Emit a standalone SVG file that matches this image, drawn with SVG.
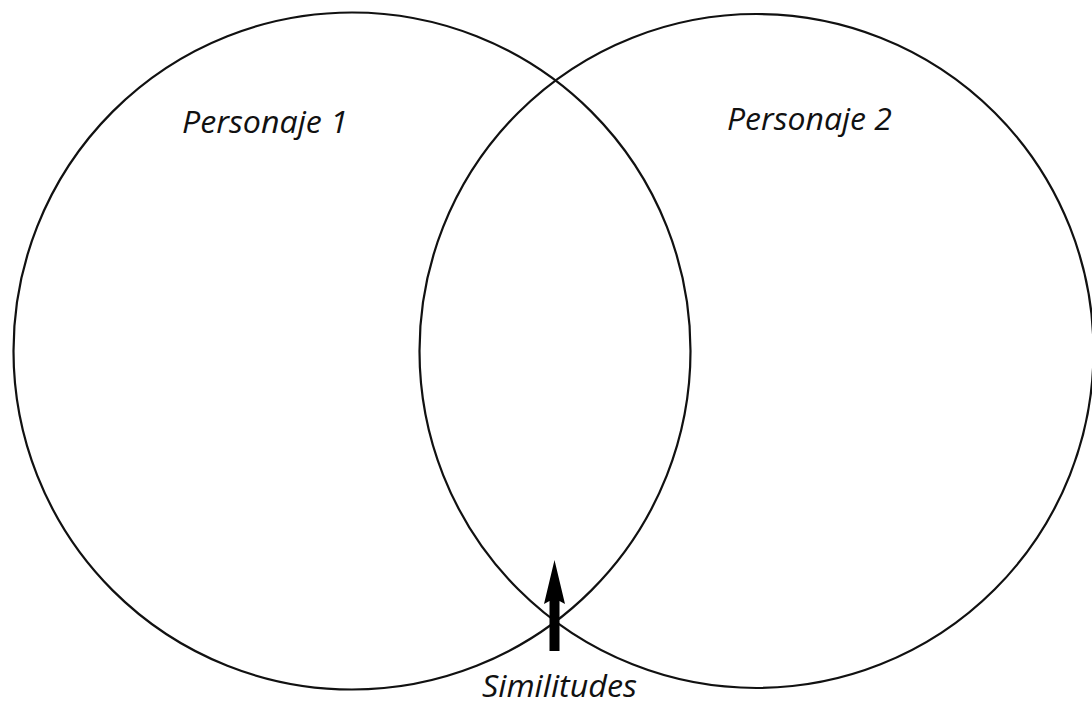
<svg xmlns="http://www.w3.org/2000/svg" width="1092" height="706" viewBox="0 0 1092 706">
<style>
.c{fill:none;stroke:#111;stroke-width:2.2}
.t{font-family:"Open Sans","Noto Sans",sans-serif;font-style:italic;font-size:31px;fill:#111}
</style>
<rect width="1092" height="706" fill="#fff"/>
<g id="personaje1">
<circle class="c" cx="352" cy="351" r="338.5"/>
<text class="t" x="182" y="133" textLength="166" lengthAdjust="spacingAndGlyphs">Personaje 1</text>
</g>
<g id="personaje2">
<circle class="c" cx="756.5" cy="351" r="337"/>
<text class="t" x="727" y="130" textLength="165" lengthAdjust="spacingAndGlyphs">Personaje 2</text>
</g>
<g id="connectors">
<path d="M549.5 651 L549.5 601 L544 604 L554.5 560 L565 604 L559.5 601 L559.5 651 Z" fill="#000"/>
</g>
<g id="similitudes">
<text class="t" x="482" y="697" textLength="155" lengthAdjust="spacingAndGlyphs">Similitudes</text>
</g>
</svg>
